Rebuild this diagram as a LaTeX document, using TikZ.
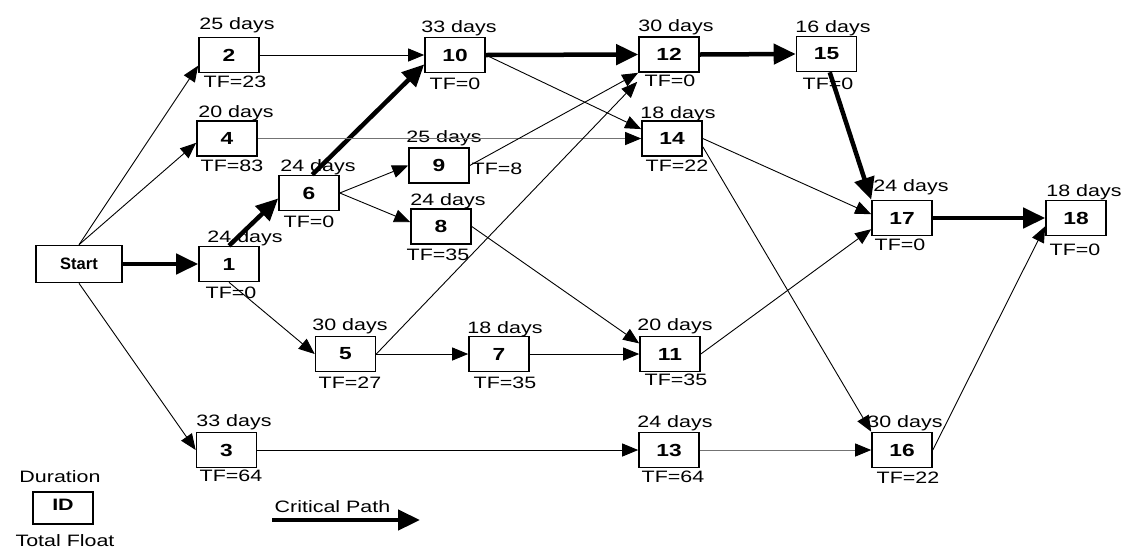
\documentclass[tikz,border=0pt]{standalone}
\usepackage{fontspec}
\setmainfont[FakeStretch=1.3]{Liberation Sans}
\newfontfamily\startfont{Liberation Sans}
\usetikzlibrary{arrows.meta,calc}
\newcommand\lblfont{\fontsize{16.5}{18}\selectfont}
\newcommand\boxfont{\fontsize{17.5}{19}\selectfont}
\tikzset{
  box/.style={draw, line width=1.6pt, minimum width=60pt, minimum height=35pt, inner sep=0pt, font=\boxfont\bfseries},
  lbl/.style={anchor=base, inner sep=0pt, font=\lblfont},
  act/.style={line width=0.9pt, -{Triangle[length=16pt,width=13pt]}},
  crit/.style={line width=4.5pt, -{Triangle[length=22pt,width=20pt]}},
  faint/.style={draw=black!55, -{Triangle[length=16pt,width=13pt,color=black]}},
}
\begin{document}
\begin{tikzpicture}[x=1pt,y=-1pt]
\useasboundingbox (0,0) rectangle (1123,550);
% activity boxes
\node[box, minimum width=86pt, minimum height=37pt, font=\lblfont\startfont\bfseries] (start) at (79,264) {Start};
\node[box] (n1) at (229,264) {1};
\node[box] (n2) at (229,55) {2};
\node[box] (n3) at (226.5,450) {3};
\node[box] (n4) at (227,138.5) {4};
\node[box] (n5) at (345.5,354) {5};
\node[box] (n6) at (309,193) {6};
\node[box] (n7) at (499,354) {7};
\node[box] (n8) at (441,226.5) {8};
\node[box] (n9) at (439,165.5) {9};
\node[box] (n10) at (455,55) {10};
\node[box] (n11) at (670,354) {11};
\node[box] (n12) at (669,54.5) {12};
\node[box] (n13) at (669,450) {13};
\node[box] (n14) at (672,138.5) {14};
\node[box] (n15) at (826.5,54) {15};
\node[box] (n16) at (902,450) {16};
\node[box] (n17) at (902,218) {17};
\node[box] (n18) at (1076,218) {18};
% durations
\node[lbl] (d1) at (245,242) {24\hspace{6pt}days};
\node[lbl] (d2) at (237,29) {25 days};
\node[lbl] (d3) at (234,426) {33 days};
\node[lbl] (d4) at (236,117) {20 days};
\node[lbl] (d5) at (350,330) {30 days};
\node[lbl] (d6) at (318,171) {24 days};
\node[lbl] (d7) at (505,333) {18 days};
\node[lbl] (d8) at (448,205) {24 days};
\node[lbl] (d9) at (444,142) {25 days};
\node[lbl] (d10) at (459,32) {33 days};
\node[lbl] (d11) at (675,330) {20 days};
\node[lbl] (d12) at (676,31) {30 days};
\node[lbl] (d13) at (675,427) {24 days};
\node[lbl] (d14) at (678,118) {18 days};
\node[lbl] (d15) at (833,32) {16 days};
\node[lbl] (d16) at (905,427) {30 days};
\node[lbl] (d17) at (911,191) {24 days};
\node[lbl] (d18) at (1084,196) {18 days};
% total floats
\node[lbl] (t1) at (231,298) {TF=0};
\node[lbl] (t2) at (235,87) {TF=23};
\node[lbl] (t3) at (231,481) {TF=64};
\node[lbl] (t4) at (232,171) {TF=83};
\node[lbl] (t5) at (350,388) {TF=27};
\node[lbl] (t6) at (309,227) {TF=0};
\node[lbl] (t7) at (505,388) {TF=35};
\node[lbl] (t8) at (438,260) {TF=35};
\node[lbl] (t9) at (497,174) {TF=8};
\node[lbl] (t10) at (455,89) {TF=0};
\node[lbl] (t11) at (676,385) {TF=35};
\node[lbl] (t12) at (670,86) {TF=0};
\node[lbl] (t13) at (673,482) {TF=64};
\node[lbl] (t14) at (677,171) {TF=22};
\node[lbl] (t15) at (828,89) {TF=0};
\node[lbl] (t16) at (908,483) {TF=22};
\node[lbl] (t17) at (900,250) {TF=0};
\node[lbl] (t18) at (1075,255) {TF=0};
% connectors
\draw[act] (start.north) -- (n2.199);
\draw[act] (start.north) -- (n4.188);
\draw[crit] (start.east) -- (n1.west);
\draw[act] (start.south) -- (n3.west);
\draw[crit] (n1.north) -- (n6.190);
\draw[act] (n1.south) -- (n5.west);
\draw[act] (n2.east) -- (n10.west);
\draw[crit] (n6.80) -- (n10.197);
\draw[act, faint] (n4.east) -- (n14.west);
\draw[act] (n6.east) -- (n9.west);
\draw[act] (n6.east) -- (n8.172);
\draw[act] (n9.east) -- (n12.south west);
\draw[act] (n5.east) -- ($(n12.south west)+(-1,9)$);
\draw[crit] (n10.east) -- (n12.west);
\draw[act] (n10.east) -- (n14.163);
\draw[crit] (n12.east) -- (n15.west);
\draw[crit] (n15.-80) -- (n17.north west);
\draw[act] (n14.east) -- (n17.173);
\draw[act] (n14.-15) -- (n16.north west);
\draw[act] (n8.east) -- (n11.161);
\draw[act] (n5.east) -- (n7.west);
\draw[act] (n7.east) -- (n11.west);
\draw[act] (n11.east) -- (n17.200);
\draw[act] (n3.east) -- (n13.west);
\draw[act, faint] (n13.east) -- (n16.west);
\draw[act] (n16.east) -- (n18.195);
\draw[crit] (n17.east) -- (n18.west);
% legend
\node[lbl] (legdur) at (60,482) {Duration};
\node[box, minimum height=32pt] (legbox) at (63,508) {};
\node[lbl, font=\lblfont\bfseries] (legid) at (63,510) {ID};
\node[lbl] (legtf) at (65,546) {Total Float};
\coordinate (cpA) at (272,520);
\coordinate (cpB) at (420,520);
\draw[crit] (cpA) -- (cpB);
\node[lbl] (cptext) at (332.5,512) {Critical Path};
\end{tikzpicture}
\end{document}
